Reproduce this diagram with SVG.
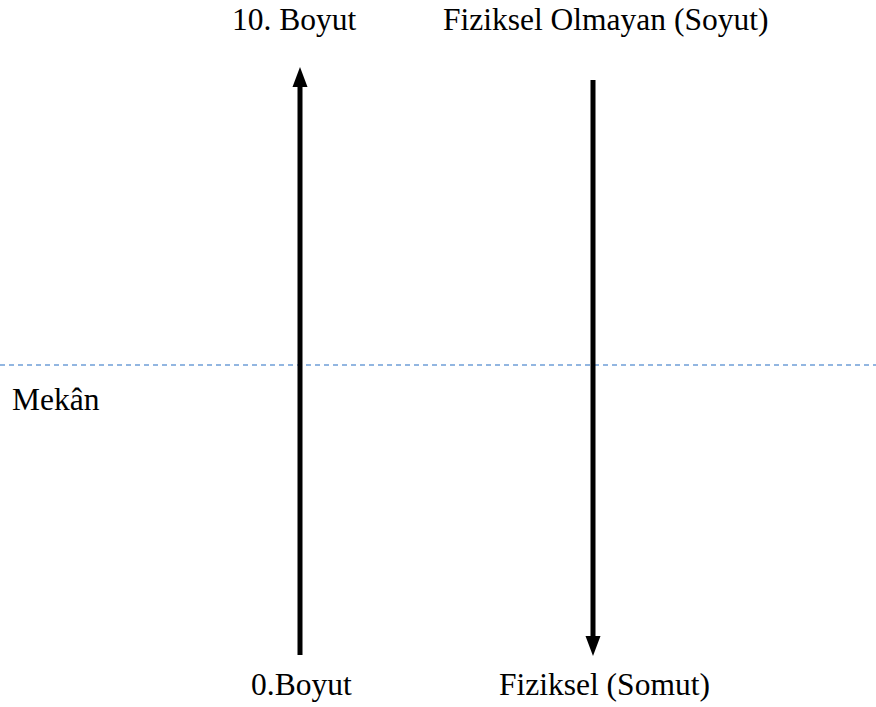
<svg xmlns="http://www.w3.org/2000/svg" width="876" height="707" viewBox="0 0 876 707">
<style>
.arr{stroke:#000;stroke-width:5;fill:none}
.head{fill:#000}
.dash{stroke:#6f9fd8;stroke-width:1.5;stroke-dasharray:5 4;fill:none}
</style>
<g id="connectors">
<line class="dash" x1="0" y1="365" x2="876" y2="365"/>
<line class="arr" x1="300" y1="655" x2="300" y2="85"/>
<polygon class="head" points="300,67 307.5,87 292.5,87"/>
<line class="arr" x1="593" y1="80" x2="593" y2="640"/>
<polygon class="head" points="593,656 600.5,636 585.5,636"/>
</g>
<g font-family="Liberation Serif" font-size="31.5" fill="#000">
<g id="top-left"><text x="232" y="30">10. Boyut</text></g>
<g id="top-right"><text x="443" y="30">Fiziksel Olmayan (Soyut)</text></g>
<g id="mekan"><text x="12" y="410">Mekân</text></g>
<g id="bottom-left"><text x="251" y="695">0.Boyut</text></g>
<g id="bottom-right"><text x="499" y="695">Fiziksel (Somut)</text></g>
</g>
</svg>
